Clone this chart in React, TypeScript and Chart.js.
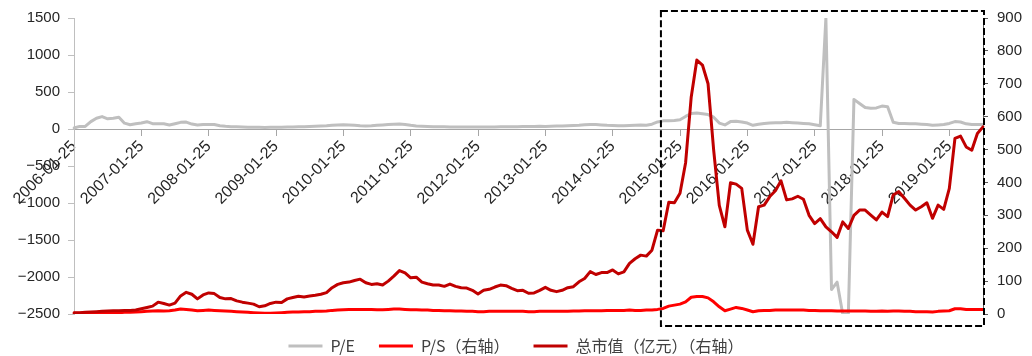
import React, { useEffect, useRef } from 'react';
import { Chart, registerables } from 'chart.js';

Chart.register(...registerables);

// ---- categories: monthly dates 2006-01-25 … 2019-07-25 ----
const startYear = 2006;
const monthCount = 163;
const categories: string[] = [];
for (let i = 0; i < monthCount; i++) {
  const y = startYear + Math.floor(i / 12);
  const m = (i % 12) + 1;
  categories.push(`${y}-${String(m).padStart(2, '0')}-25`);
}
const labelEvery = 12;

// ---- series ----
const seriesNames = ['P/E', 'P/S（右轴）', '总市值（亿元）（右轴）'];

const peValues = [
  13, 35, 35, 100, 146, 168, 137, 146, 160, 79,
  58, 72, 81, 99, 72, 72, 70, 54, 72, 90,
  94, 67, 54, 60, 62, 60, 45, 36, 32, 30,
  28, 25, 22, 22, 20, 22, 25, 25, 27, 28,
  30, 32, 35, 38, 42, 45, 50, 55, 58, 55,
  50, 45, 42, 45, 50, 55, 60, 65, 67, 62,
  50, 42, 38, 35, 32, 30, 30, 28, 28, 27,
  27, 26, 26, 27, 28, 28, 30, 30, 32, 32,
  33, 35, 35, 36, 35, 38, 40, 42, 45, 48,
  52, 58, 62, 60, 55, 50, 48, 45, 45, 48,
  52, 55, 50, 65, 95, 110, 110, 115, 125, 170,
  210, 215, 205, 195, 160, 80, 55, 100, 105, 95,
  80, 50, 65, 75, 80, 85, 85, 90, 85, 80,
  75, 70, 58, 45, 1500, -2170, -2070, -2500, -2500, 400,
  345, 290, 280, 285, 310, 300, 90, 75, 75, 72,
  70, 65, 60, 50, 55, 60, 75, 100, 95, 70,
  60, 60, 60,
];

const psValues = [
  2, 2, 2, 2, 3, 3, 3, 4, 4, 5,
  5, 6, 7, 8, 9, 10, 9, 10, 12, 15,
  14, 12, 10, 11, 12, 11, 10, 9, 8, 7,
  6, 5, 4, 3, 2, 2, 3, 4, 5, 6,
  6, 7, 7, 8, 8, 9, 11, 12, 13, 14,
  14, 14, 14, 14, 13, 13, 14, 15, 15, 14,
  13, 13, 12, 12, 11, 11, 10, 10, 9, 9,
  8, 8, 7, 7, 8, 8, 8, 8, 8, 8,
  8, 7, 7, 8, 8, 8, 8, 8, 8, 9,
  9, 10, 10, 10, 10, 11, 11, 11, 11, 12,
  11, 11, 12, 12, 14, 17, 24, 27, 30, 37,
  51, 53, 53, 49, 37, 22, 10, 15, 20, 17,
  12, 7, 10, 11, 11, 12, 12, 12, 12, 12,
  12, 11, 11, 10, 10, 10, 9, 9, 9, 9,
  9, 9, 8, 8, 9, 8, 9, 9, 8, 8,
  7, 7, 7, 6, 8, 9, 10, 16, 16, 14,
  14, 14, 14,
];

const mcapValues = [
  4, 4, 5, 6, 7, 8, 9, 10, 10, 11,
  11, 12, 16, 20, 24, 36, 32, 27, 33, 55,
  66, 60, 46, 58, 64, 62, 50, 46, 47, 40,
  36, 33, 30, 22, 25, 32, 36, 35, 46, 50,
  54, 52, 55, 57, 60, 65, 80, 90, 95, 97,
  102, 106, 95, 90, 92, 88, 100, 115, 132, 125,
  110, 112, 97, 92, 88, 88, 84, 91, 84, 80,
  79, 72, 61, 72, 75, 82, 88, 86, 78, 71,
  72, 63, 64, 72, 81, 72, 68, 72, 80, 83,
  98, 108, 129, 120, 126, 126, 134, 122, 128, 154,
  168, 179, 176, 194, 255, 253, 340, 338, 367, 460,
  660, 772, 757, 700, 498, 330, 265, 399, 395, 382,
  255, 212, 326, 331, 357, 375, 405, 347, 350, 358,
  349, 300, 275, 290, 265, 250, 233, 280, 260, 300,
  316, 316, 301, 286, 310, 296, 362, 372, 352, 331,
  316, 326, 338, 291, 331, 318, 382, 534, 541, 508,
  498, 549, 569,
];

// ---- axes ----
const leftAxis = { min: -2500, max: 1500, step: 500 };
const rightAxis = { min: 0, max: 900, step: 100 };

// highlighted period (dashed box) starts between these categories
const highlightStartIndex = 104.6;

const colors = { pe: '#BFBFBF', ps: '#FF0000', mcap: '#C00000' };

const tickFont = { family: '"Liberation Sans", Arial, sans-serif', size: 15 };
const xTickFont = { family: '"Liberation Sans", Arial, sans-serif', size: 16 };
const legendFont = { family: '"Noto Sans CJK SC", "Noto Sans", sans-serif', size: 16 };

const dashedBoxPlugin = {
  id: 'dashedBox',
  afterDraw(chart: any) {
    const { ctx, chartArea, scales } = chart;
    const xs = scales.x;
    const i0 = Math.floor(highlightStartIndex);
    const f = highlightStartIndex - i0;
    const p0 = xs.getPixelForValue(i0);
    const p1 = xs.getPixelForValue(i0 + 1);
    const left = p0 + f * (p1 - p0);
    const right = chartArea.right + 1;
    const top = chartArea.top - 7;
    const bottom = chartArea.bottom + 12;
    ctx.save();
    ctx.strokeStyle = '#000000';
    ctx.lineWidth = 2;
    ctx.setLineDash([7, 3]);
    ctx.strokeRect(left, top, right - left, bottom - top);
    ctx.restore();
  },
};

const minus = (v: number) => String(v).replace('-', '\u2212');

export default function App() {
  const canvasRef = useRef<HTMLCanvasElement | null>(null);

  useEffect(() => {
    document.body.style.margin = '0';
    const canvas = canvasRef.current;
    if (!canvas) return;
    const chart = new Chart(canvas, {
      type: 'line',
      data: {
        labels: categories,
        datasets: [
          {
            label: seriesNames[0],
            data: peValues,
            yAxisID: 'y',
            borderColor: colors.pe,
            backgroundColor: colors.pe,
            borderWidth: 3,
            order: 3,
          },
          {
            label: seriesNames[1],
            data: psValues,
            yAxisID: 'y1',
            borderColor: colors.ps,
            backgroundColor: colors.ps,
            borderWidth: 3,
            order: 2,
          },
          {
            label: seriesNames[2],
            data: mcapValues,
            yAxisID: 'y1',
            borderColor: colors.mcap,
            backgroundColor: colors.mcap,
            borderWidth: 3,
            order: 1,
          },
        ],
      },
      options: {
        responsive: false,
        animation: false,
        events: [],
        layout: { padding: { top: 18, left: 0, right: 0, bottom: 0 } },
        elements: {
          point: { radius: 0 },
          line: { tension: 0, borderJoinStyle: 'round', borderCapStyle: 'round' },
        },
        plugins: {
          tooltip: { enabled: false },
          legend: {
            position: 'bottom',
            maxHeight: 42,
            labels: {
              boxWidth: 34,
              boxHeight: 3,
              padding: 24,
              color: '#404040',
              font: legendFont,
              sort: (a: any, b: any) => a.datasetIndex - b.datasetIndex,
              generateLabels: (c: any) =>
                (Chart.defaults.plugins.legend.labels as any)
                  .generateLabels(c)
                  .map((it: any) => ({ ...it, fillStyle: it.strokeStyle, lineWidth: 0 })),
            },
          },
        },
        scales: {
          x: {
            type: 'category',
            position: { y: 0 } as any,
            offset: false,
            grid: {
              display: true,
              drawOnChartArea: false,
              drawTicks: true,
              tickLength: 6,
              color: (ctx: any) => (ctx.index % labelEvery === 0 ? '#a6a6a6' : 'rgba(0,0,0,0)'),
            },
            border: { display: true, color: '#a6a6a6', width: 1 },
            ticks: {
              autoSkip: false,
              minRotation: 45,
              maxRotation: 45,
              padding: 2,
              color: '#262626',
              font: xTickFont,
              callback: function (this: any, value: any, index: number) {
                return index % labelEvery === 0 ? this.getLabelForValue(value) : '';
              },
            },
          },
          y: {
            type: 'linear',
            position: 'left',
            min: leftAxis.min,
            max: leftAxis.max,
            afterFit: (s: any) => { s.width = 74; },
            grid: { display: true, drawOnChartArea: false, tickLength: 6, color: '#bfbfbf' },
            border: { display: true, color: '#bfbfbf', width: 1 },
            ticks: {
              stepSize: leftAxis.step,
              padding: 8,
              color: '#262626',
              font: tickFont,
              callback: (v: any) => minus(v),
            },
          },
          y1: {
            type: 'linear',
            position: 'right',
            min: rightAxis.min,
            max: rightAxis.max,
            afterFit: (s: any) => { s.width = 49; },
            grid: { display: true, drawOnChartArea: false, tickLength: 5, color: '#595959' },
            border: { display: true, color: '#595959', width: 1 },
            ticks: {
              stepSize: rightAxis.step,
              padding: 9,
              color: '#262626',
              font: tickFont,
            },
          },
        },
      },
      plugins: [dashedBoxPlugin],
    } as any);
    return () => chart.destroy();
  }, []);

  return (
    <div style={{ width: 1032, height: 356 }}>
      <canvas ref={canvasRef} width={1032} height={356} style={{ display: 'block' }} />
    </div>
  );
}
